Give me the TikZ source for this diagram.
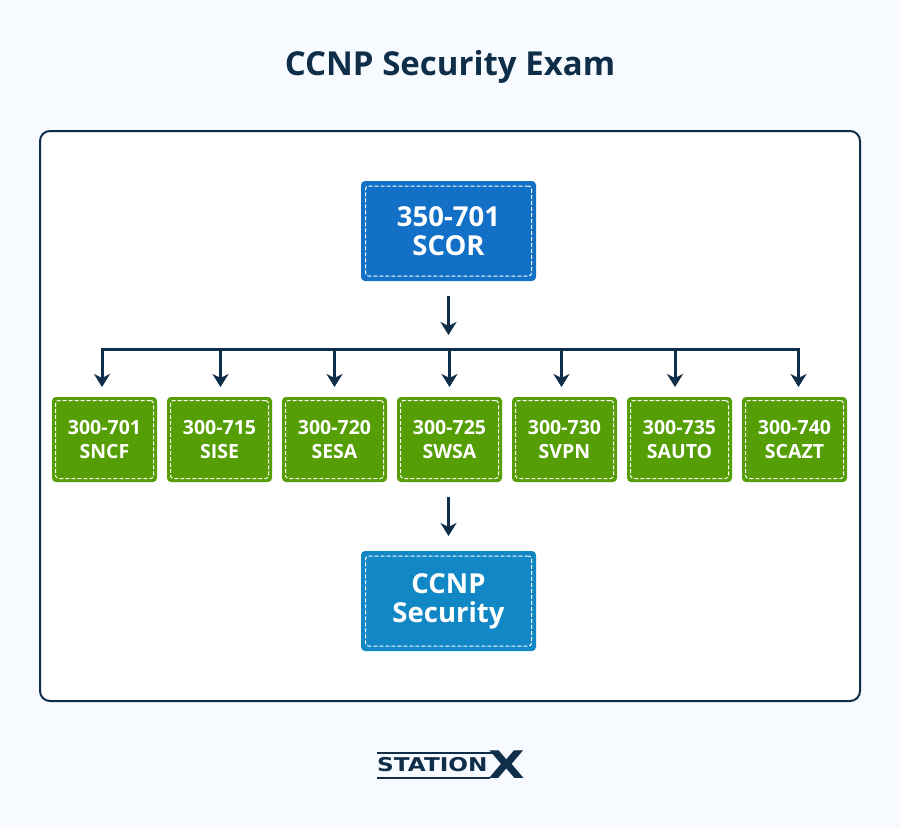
\documentclass[tikz,border=0pt]{standalone}
\usepackage{fontspec}
\setmainfont{Open Sans}
\newfontfamily\logofont{DejaVu Sans}
\usetikzlibrary{arrows.meta}
\definecolor{pagebg}{HTML}{F7FBFF}
\definecolor{darknavy}{HTML}{0F2E4A}
\definecolor{scorblue}{HTML}{1270C6}
\definecolor{ccnpblue}{HTML}{1287C6}
\definecolor{examgreen}{HTML}{559E05}
\tikzset{
  mainback/.style={shape=rectangle, rounded corners=4pt, inner sep=0pt, minimum width=175pt, minimum height=100pt},
  maintext/.style={shape=rectangle, rounded corners=3pt, draw=white, dash pattern=on 4pt off 2pt, line width=1pt, inner sep=0pt, minimum width=166pt, minimum height=90pt, text=white, align=center, font=\bfseries\fontsize{27.5}{29}\selectfont},
  examback/.style={shape=rectangle, fill=examgreen, rounded corners=4pt, inner sep=0pt, minimum width=105pt, minimum height=85pt},
  examtext/.style={shape=rectangle, rounded corners=3pt, draw=white, dash pattern=on 4pt off 2pt, line width=1pt, inner sep=0pt, minimum width=98pt, minimum height=78pt, text=white, align=center, font=\bfseries\fontsize{19.5}{24}\selectfont},
  flow/.style={-{Stealth[length=13pt, width=16pt, inset=4pt]}, line width=3pt, draw=darknavy},
  bus/.style={line width=3pt, draw=darknavy}
}
\begin{document}
\begin{tikzpicture}[x=1pt, y=-1pt]
\useasboundingbox (0,0) rectangle (900,828);
\fill[pagebg] (0,0) rectangle (900,828);
\node[text=darknavy, font=\bfseries\fontsize{33}{36}\selectfont] (title) at (450,67) {CCNP Security Exam};
\draw[draw=darknavy, fill=white, line width=2pt, rounded corners=10pt] (40,131) rectangle (860,701);
% top box
\node[mainback, fill=scorblue] (scorback) at (448.5,231) {};
\node[maintext] (scor) at (448.5,231) {350-701\\SCOR};
% exams
\node[examback] (b1) at (104.5,439.5) {};
\node[examback] (b2) at (219.5,439.5) {};
\node[examback] (b3) at (334.5,439.5) {};
\node[examback] (b4) at (449.5,439.5) {};
\node[examback] (b5) at (564.5,439.5) {};
\node[examback] (b6) at (679.5,439.5) {};
\node[examback] (b7) at (794.5,439.5) {};
\node[examtext] (e1) at (104.5,439.5) {300-701\\SNCF};
\node[examtext] (e2) at (219.5,439.5) {300-715\\SISE};
\node[examtext] (e3) at (334.5,439.5) {300-720\\SESA};
\node[examtext] (e4) at (449.5,439.5) {300-725\\SWSA};
\node[examtext] (e5) at (564.5,439.5) {300-730\\SVPN};
\node[examtext] (e6) at (679.5,439.5) {300-735\\SAUTO};
\node[examtext] (e7) at (794.5,439.5) {300-740\\SCAZT};
% bottom box
\node[mainback, fill=ccnpblue] (ccnpback) at (448.5,601) {};
\node[maintext] (ccnp) at (448.5,601) {CCNP\\Security};
% connector ends
\coordinate (top0) at (448.5,296);
\coordinate (top1) at (448.5,335);
\coordinate (low0) at (448.5,497);
\coordinate (low1) at (448.5,536);
\coordinate (j1) at (102,349.5);
\coordinate (j2) at (220.5,349.5);
\coordinate (j3) at (334.5,349.5);
\coordinate (j4) at (449.5,349.5);
\coordinate (j5) at (561.5,349.5);
\coordinate (j6) at (675,349.5);
\coordinate (j7) at (798.5,349.5);
\coordinate (a1) at (102,387);
\coordinate (a2) at (220.5,387);
\coordinate (a3) at (334.5,387);
\coordinate (a4) at (449.5,387);
\coordinate (a5) at (561.5,387);
\coordinate (a6) at (675,387);
\coordinate (a7) at (798.5,387);
\draw[flow] (top0) -- (top1);
\draw[flow] (low0) -- (low1);
\draw[bus, line cap=rect] (j1) -- (j7);
\draw[flow] (j1) -- (a1);
\draw[flow] (j2) -- (a2);
\draw[flow] (j3) -- (a3);
\draw[flow] (j4) -- (a4);
\draw[flow] (j5) -- (a5);
\draw[flow] (j6) -- (a6);
\draw[flow] (j7) -- (a7);
% logo
\fill[darknavy] (377,752) rectangle (497,754);
\fill[darknavy] (377,776.5) rectangle (490,778.5);
\node[text=darknavy, inner sep=0pt, anchor=west, font=\logofont\bfseries\fontsize{19}{19}\selectfont] (station) at (377,765) {\scalebox{1.22}[1]{STATION}};
\node[text=darknavy, inner sep=0pt, font=\logofont\bfseries\fontsize{38}{38}\selectfont] (logox) at (507,765) {\scalebox{1.25}[1]{X}};
\end{tikzpicture}
\end{document}
